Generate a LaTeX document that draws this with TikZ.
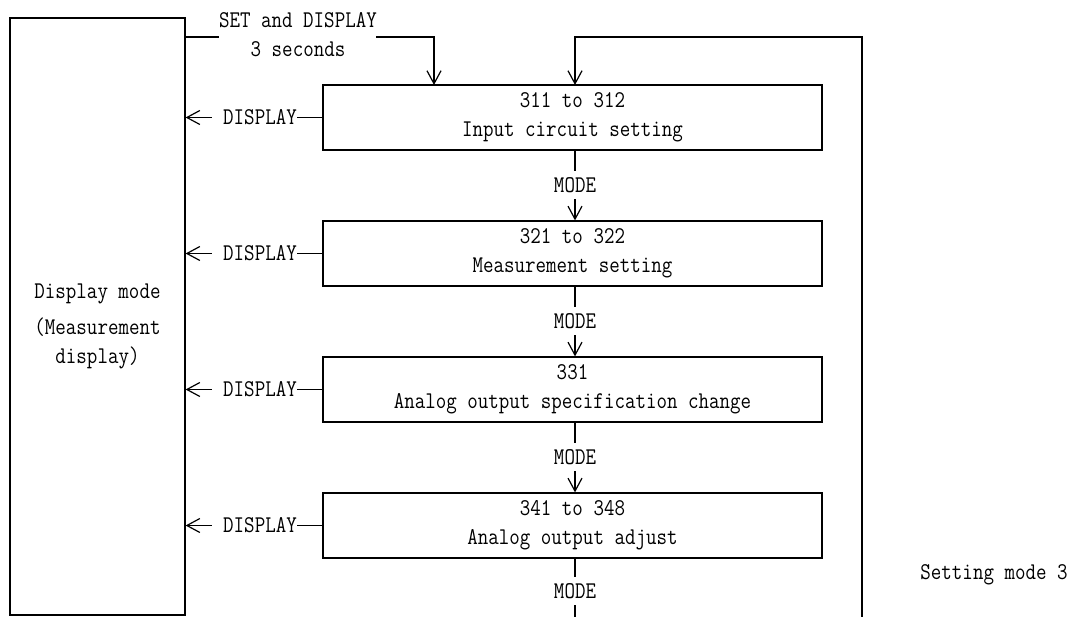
\documentclass[tikz,border=0pt]{standalone}
\usepackage{fontspec}
\setmonofont{Latin Modern Mono}[FakeStretch=0.85]
\usetikzlibrary{arrows.meta}
\begin{document}
\begin{tikzpicture}[x=1pt,y=-1pt, line width=1.2pt,
  every node/.style={font=\ttfamily\fontsize{24}{29}\selectfont},
  stepbox/.style={draw, minimum width=499pt, minimum height=65pt, align=center, inner sep=0pt},
  lbl/.style={inner xsep=0pt, inner ysep=2pt},
  modelbl/.style={inner xsep=0pt, inner ysep=6pt},
  arr/.style={-{Straight Barb[length=13pt,width=14pt]}}]
\useasboundingbox (0,0) rectangle (1083,617);
% display mode box
\node[draw, minimum width=175pt, minimum height=597pt, inner sep=0pt] (disp) at (97.5,316.5) {};
\node (dm1) at (97.5,294) {Display mode};
\node[align=center] (dm2) at (97.5,343) {(Measurement\\display)};
% step boxes
\node[stepbox] (b1) at (572.5,117.5) {311 to 312\\Input circuit setting};
\node[stepbox] (b2) at (572.5,253.5) {321 to 322\\Measurement setting};
\node[stepbox] (b3) at (572.5,389.5) {331\\Analog output specification change};
\node[stepbox] (b4) at (572.5,525.5) {341 to 348\\Analog output adjust};
% SET and DISPLAY entry
\node[align=center, inner sep=2pt] (setl) at (298,35) {SET and DISPLAY\\3 seconds};
\coordinate (sa) at (185,37);
\coordinate (sb) at (219,37);
\coordinate (sc) at (376,37);
\coordinate (setin) at (434,85);
\draw (sa) -- (sb);
\draw[arr] (sc) -| (setin);
% loop back
\coordinate (loopbot) at (862,617);
\coordinate (b1in) at (575,85);
\draw[arr] (loopbot) |- (575,37) -- (b1in);
% MODE transitions
\node[modelbl] (m1) at (575,185) {MODE};
\node[modelbl] (m2) at (575,321) {MODE};
\node[modelbl] (m3) at (575,457) {MODE};
\node[modelbl] (m4) at (575,591) {MODE};
\draw (b1.south -| m1) -- (m1);
\draw[arr] (m1) -- (b2.north -| m1);
\draw (b2.south -| m2) -- (m2);
\draw[arr] (m2) -- (b3.north -| m2);
\draw (b3.south -| m3) -- (m3);
\draw[arr] (m3) -- (b4.north -| m3);
\coordinate (mend) at (575,617);
\draw (b4.south -| m4) -- (m4);
\draw (m4) -- (mend);
% DISPLAY returns
\node[lbl] (d1) at (260,117.5) {DISPLAY};
\node[lbl] (d2) at (260,253.5) {DISPLAY};
\node[lbl] (d3) at (260,389.5) {DISPLAY};
\node[lbl] (d4) at (260,525.5) {DISPLAY};
\foreach \i in {1,2,3,4}{
  \draw (b\i.west) -- (d\i.east);
  \draw[arr] ([xshift=-11pt]d\i.west) -- (disp.east |- d\i.west);
}
% label
\node (sm) at (994,575) {Setting mode 3};
\end{tikzpicture}
\end{document}
